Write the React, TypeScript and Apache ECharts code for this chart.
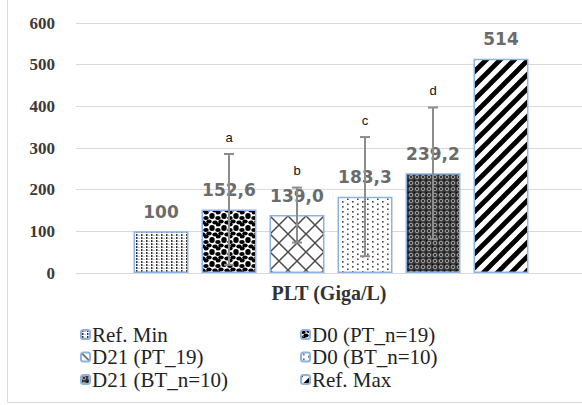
import React, { useEffect, useRef } from "react";
import * as echarts from "echarts";

const seriesNames = ["Ref. Min", "D0 (PT_n=19)", "D21 (PT_19)", "D0 (BT_n=10)", "D21 (BT_n=10)", "Ref. Max"];
const values = [100, 152.6, 139.0, 183.3, 239.2, 514];
const labelDecimals = [0, 1, 1, 1, 1, 0];
const errors = [null, 133, 66, 143, 158, null];
const letters = ["", "a", "b", "c", "d", ""];
const category = ["PLT (Giga/L)"];
const yTicks = { min: 0, max: 600, interval: 100 };
const leftLegend = ["Ref. Min", "D21 (PT_19)", "D21 (BT_n=10)"];
const rightLegend = ["D0 (PT_n=19)", "D0 (BT_n=10)", "Ref. Max"];

const SERIF = "Liberation Serif";

function makePattern(w: number, h: number, draw: (ctx: CanvasRenderingContext2D) => void, bg = "#ffffff") {
  const c = document.createElement("canvas");
  c.width = w;
  c.height = h;
  const ctx = c.getContext("2d") as CanvasRenderingContext2D;
  ctx.fillStyle = bg;
  ctx.fillRect(0, 0, w, h);
  draw(ctx);
  return { image: c, repeat: "repeat", imageWidth: w, imageHeight: h } as any;
}

function buildPatterns() {
  const refMin = makePattern(5, 3, (ctx) => {
    ctx.fillStyle = "#333";
    ctx.fillRect(1, 0, 1.5, 2);
    ctx.fillStyle = "#999";
    ctx.fillRect(3.5, 1, 1, 1);
  });
  const d0pt = makePattern(12, 12, (ctx) => {
    ctx.fillStyle = "#000";
    const dots = [[2, 2], [8, 1], [5, 5.5], [11, 6.5], [2, 8.5], [8, 11], [-1, 6.5], [14, 2], [8, 13], [8, -1]];
    dots.forEach(([x, y]) => {
      ctx.beginPath();
      ctx.ellipse(x, y, 2.7, 2.0, 0, 0, Math.PI * 2);
      ctx.fill();
    });
  });
  const d21pt = makePattern(18, 18, (ctx) => {
    ctx.strokeStyle = "#4a4a4a";
    ctx.lineWidth = 1.5;
    ctx.beginPath();
    ctx.moveTo(0, 0);
    ctx.lineTo(18, 18);
    ctx.moveTo(18, 0);
    ctx.lineTo(0, 18);
    ctx.stroke();
  });
  const d0bt = makePattern(10, 10, (ctx) => {
    ctx.fillStyle = "#444";
    ctx.fillRect(2, 1, 1.6, 1.6);
    ctx.fillRect(7, 3.5, 1.6, 1.6);
    ctx.fillRect(2, 6, 1.6, 1.6);
    ctx.fillRect(7, 8.5, 1.6, 1.6);
  });
  const d21bt = makePattern(6, 6, (ctx) => {
    ctx.strokeStyle = "#a8a8a8";
    ctx.lineWidth = 1;
    ctx.beginPath();
    ctx.arc(3, 3, 1.8, 0, Math.PI * 2);
    ctx.stroke();
    ctx.fillStyle = "#000";
    ctx.fillRect(0, 0, 1, 1);
  }, "#333");
  const refMax = makePattern(14, 14, (ctx) => {
    ctx.strokeStyle = "#000";
    ctx.lineWidth = 4.8;
    ctx.beginPath();
    ctx.moveTo(-2, 16);
    ctx.lineTo(16, -2);
    ctx.moveTo(-9, 9);
    ctx.lineTo(9, -9);
    ctx.moveTo(5, 23);
    ctx.lineTo(23, 5);
    ctx.stroke();
  });
  return [refMin, d0pt, d21pt, d0bt, d21bt, refMax];
}

export default function App() {
  const ref = useRef<HTMLDivElement>(null);
  useEffect(() => {
    if (!ref.current) return;
    const chart = echarts.init(ref.current, null, { renderer: "svg" });
    const patterns = buildPatterns();
    const barSeries = seriesNames.map((name, i) => ({
      name,
      type: "bar",
      xAxisIndex: 1,
      yAxisIndex: 1,
      barWidth: 55,
      barGap: "-100%",
      data: seriesNames.map((_, j) => (j === i ? values[i] : "-")),
      itemStyle: { color: patterns[i], borderColor: "#8db3e2", borderWidth: 1.5 },
      label: {
        show: true,
        position: "top",
        distance: 11,
        formatter: (p: any) => Number(p.value).toFixed(labelDecimals[i]).replace(".", ","),
        fontFamily: "DejaVu Sans",
        fontWeight: "bold",
        fontSize: 17,
        color: "#6b6b6b",
      },
      emphasis: { disabled: true },
    }));
    const errData = values
      .map((v, i) => [i, v, errors[i], letters[i]])
      .filter((d) => d[2] != null);
    const legendText = { fontFamily: SERIF, fontSize: 21, lineHeight: 21, color: "#222", padding: [0, 0, 0, -3] };
    const option: any = {
      animation: false,
      grid: [
        { left: 76, top: 23, width: 510, height: 250 },
        { left: 127, top: 23, width: 408, height: 250 },
      ],
      xAxis: [
        {
          type: "category",
          gridIndex: 0,
          data: category,
          axisTick: { show: false },
          axisLine: { show: true, lineStyle: { color: "#d9d9d9", width: 1 } },
          axisLabel: {
            margin: 10,
            fontFamily: SERIF,
            fontWeight: "bold",
            fontSize: 20,
            color: "#333",
          },
        },
        { type: "category", gridIndex: 1, data: seriesNames, show: false },
      ],
      yAxis: [
        {
          type: "value",
          gridIndex: 0,
          min: yTicks.min,
          max: yTicks.max,
          interval: yTicks.interval,
          axisLine: { show: false },
          axisTick: { show: false },
          splitLine: { lineStyle: { color: "#d9d9d9", width: 1 } },
          axisLabel: {
            margin: 21,
            fontFamily: SERIF,
            fontWeight: "bold",
            fontSize: 17,
            color: "#3a3a3a",
          },
        },
        { type: "value", gridIndex: 1, min: yTicks.min, max: yTicks.max, show: false },
      ],
      legend: [
        {
          data: leftLegend,
          orient: "vertical",
          left: 80,
          top: 324,
          padding: 0,
          itemWidth: 9,
          itemHeight: 9,
          itemGap: 1.5,
          textStyle: legendText,
          selectedMode: false,
        },
        {
          data: rightLegend,
          orient: "vertical",
          left: 300,
          top: 324,
          padding: 0,
          itemWidth: 9,
          itemHeight: 9,
          itemGap: 1.5,
          textStyle: legendText,
          selectedMode: false,
        },
      ],
      graphic: [
        { type: "line", shape: { x1: 7.5, y1: 0, x2: 7.5, y2: 402.5 }, style: { stroke: "#d9d9d9", lineWidth: 1 } },
        { type: "line", shape: { x1: 7.5, y1: 402.5, x2: 582, y2: 402.5 }, style: { stroke: "#d9d9d9", lineWidth: 1 } },
      ],
      series: [
        ...barSeries,
        {
          type: "custom",
          name: "err",
          xAxisIndex: 1,
          yAxisIndex: 1,
          z: 10,
          data: errData,
          renderItem: (params: any, api: any) => {
            const idx = api.value(0);
            const v = api.value(1);
            const e = api.value(2);
            const letter = errData[params.dataIndex][3] as string;
            const top = api.coord([idx, v + e]);
            const bot = api.coord([idx, v - e]);
            const x = top[0];
            const cap = 5;
            const ls = { stroke: "#8c8c8c", lineWidth: 2 };
            return {
              type: "group",
              children: [
                { type: "line", shape: { x1: x, y1: top[1], x2: x, y2: bot[1] }, style: ls },
                { type: "line", shape: { x1: x - cap, y1: top[1], x2: x + cap, y2: top[1] }, style: ls },
                { type: "line", shape: { x1: x - cap, y1: bot[1], x2: x + cap, y2: bot[1] }, style: ls },
                {
                  type: "text",
                  style: {
                    text: letter,
                    x: x,
                    y: top[1] - 17,
                    align: "center",
                    verticalAlign: "middle",
                    fontFamily: "Liberation Sans",
                    fontSize: 13,
                    fill: "#111",
                  },
                },
              ],
            };
          },
        },
      ],
    };
    chart.setOption(option);
    return () => chart.dispose();
  }, []);
  return (
    <div
      ref={ref}
      style={{ position: "fixed", left: 0, top: 0, width: 582, height: 405, background: "#fff" }}
    />
  );
}
